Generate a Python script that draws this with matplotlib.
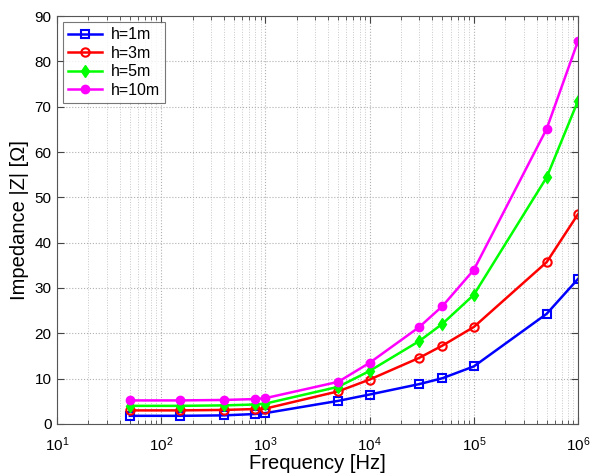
import matplotlib
matplotlib.use("Agg")
import matplotlib.pyplot as plt
from matplotlib.ticker import LogLocator, NullFormatter, MultipleLocator

plt.rcParams['font.family'] = ['Liberation Sans', 'DejaVu Sans']
plt.rcParams['mathtext.default'] = 'regular'

freq = [50, 150, 400, 800, 1000, 5000, 10000, 30000, 50000, 100000, 500000, 1000000]
z_h1 = [1.8, 1.8, 1.9, 2.2, 2.4, 5.1, 6.5, 8.8, 10.1, 12.7, 24.3, 32.0]
z_h3 = [3.0, 3.0, 3.1, 3.3, 3.4, 7.2, 9.8, 14.6, 17.3, 21.4, 35.7, 46.3]
z_h5 = [4.0, 4.0, 4.1, 4.3, 4.5, 8.2, 11.7, 18.3, 22.1, 28.5, 54.4, 71.3]
z_h10 = [5.2, 5.2, 5.3, 5.5, 5.7, 9.3, 13.5, 21.4, 26.0, 34.0, 65.1, 84.5]
labels = ['h=1m', 'h=3m', 'h=5m', 'h=10m']

fig = plt.figure(figsize=(5.98, 4.75), dpi=100)
ax = fig.add_axes([0.0953, 0.1074, 0.8713, 0.8589])

ax.plot(freq, z_h1, color='#0000ff', marker='s', mfc='none', mec='#0000ff', ms=6, mew=1.5, lw=1.8, label=labels[0])
ax.plot(freq, z_h3, color='#ff0000', marker='o', mfc='none', mec='#ff0000', ms=6, mew=1.5, lw=1.8, label=labels[1])
ax.plot(freq, z_h5, color='#00ff00', marker='d', mfc='#00ff00', mec='#00ff00', ms=6, lw=1.8, label=labels[2])
ax.plot(freq, z_h10, color='#ff00ff', marker='o', mfc='#ff00ff', mec='#ff00ff', ms=6, lw=1.8, label=labels[3])

ax.set_xscale('log')
ax.set_xlim(10, 1e6)
ax.set_ylim(0, 90)
ax.yaxis.set_major_locator(MultipleLocator(10))
ax.xaxis.set_major_locator(LogLocator(base=10, numticks=10))
ax.xaxis.set_minor_locator(LogLocator(base=10, subs=range(2, 10), numticks=20))
ax.xaxis.set_minor_formatter(NullFormatter())

ax.grid(True, which='major', axis='both', linestyle=':', color='#b0b0b0', lw=0.8)
ax.grid(True, which='minor', axis='x', linestyle=':', color='#c8c8c8', lw=0.7)
ax.tick_params(which='both', direction='in', top=True, right=True, labelsize=11, color='#444444')
ax.tick_params(which='major', length=5)
ax.tick_params(which='minor', length=3)
ax.tick_params(axis='x', which='major', pad=8)
ax.tick_params(axis='y', which='major', pad=4)
for s in ax.spines.values():
    s.set_color('#555555')
    s.set_linewidth(0.8)

ax.set_xlabel('Frequency [Hz]', fontsize=14.5, labelpad=0)
ax.set_ylabel('Impedance |Z| [Ω]', fontsize=14.5, labelpad=4)

leg = ax.legend(loc='upper left', fontsize=11.5, frameon=True, fancybox=False,
                edgecolor='#555555', handlelength=2.1, handletextpad=0.6,
                borderpad=0.3, labelspacing=0.22, borderaxespad=0.4)
leg.get_frame().set_linewidth(0.8)

fig.savefig('out.png', dpi=100)
